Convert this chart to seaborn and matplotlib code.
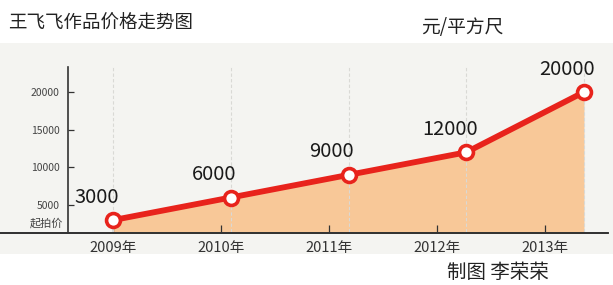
import numpy as np
import pandas as pd
import matplotlib
matplotlib.use("Agg")
import matplotlib.pyplot as plt
from matplotlib.patches import Rectangle
import seaborn as sns

years = ["2009年", "2010年", "2011年", "2012年", "2013年"]
prices = [3000, 6000, 9000, 12000, 20000]
value_labels = ["3000", "6000", "9000", "12000", "20000"]
ytick_values = [5000, 10000, 15000, 20000]
ytick_labels = ["5000", "10000", "15000", "20000"]
title = "王飞飞作品价格走势图"
unit = "元/平方尺"
credit = "制图 李荣荣"
start_label = "起拍价"

sns.set_theme(style="white")
plt.rcParams["font.family"] = ["Noto Sans CJK SC", "DejaVu Sans"]

W, H = 613, 285
fig = plt.figure(figsize=(W / 100, H / 100), dpi=100)
fig.patch.set_facecolor("white")

# gray panel behind the chart
fig.patches.append(Rectangle((0, (H - 254) / H), 1, (254 - 43) / H,
                             transform=fig.transFigure, facecolor="#f4f4f1",
                             edgecolor="none", zorder=-5))

ax = fig.add_axes([0, (H - 233) / H, 608 / W, (233 - 67) / H])
ax.set_facecolor("none")

df = pd.DataFrame({"x": np.arange(len(years)), "price": prices})

ax.fill_between(df["x"], df["price"], 0, color="#f8c898", lw=0, zorder=0.4)
ax.vlines(df["x"], 0, 30000, colors="#d9d9d5", linestyles=(0, (3, 2)), lw=0.8, zorder=0.6)
sns.lineplot(data=df, x="x", y="price", ax=ax, color="#e8231c", lw=4.2,
             marker="o", markersize=10, markerfacecolor="white",
             markeredgecolor="#e8231c", markeredgewidth=2.6, zorder=3)

for xi, yi, lab in zip(df["x"], df["price"], value_labels):
    ax.annotate(lab, (xi, yi), xytext=(-12, 9), textcoords="offset points",
                ha="center", va="bottom", fontsize=14.5, color="#1a1a1a", zorder=4)

px_per_unit = 117.75
ax.set_xlim(-113 / px_per_unit, (608 - 113) / px_per_unit)
ax.set_ylim(1290, 23320)

ax.spines["left"].set_position(("data", -45 / px_per_unit))
for s in ["top", "right"]:
    ax.spines[s].set_visible(False)
ax.spines["left"].set_color("#333333")
ax.spines["bottom"].set_color("#333333")
ax.spines["left"].set_linewidth(1.2)
ax.spines["bottom"].set_linewidth(1.3)
ax.axhline(1290, color="#333333", lw=1.3, clip_on=False, zorder=2)

ax.set_yticks(ytick_values)
ax.set_yticklabels(ytick_labels)
ax.tick_params(axis="y", direction="in", length=4, width=0.9, color="#333333",
               labelsize=7.5, labelcolor="#444444", pad=6, left=True)

label_scale = 108 / px_per_unit
ax.set_xticks(np.arange(len(years)) * label_scale)
ax.set_xticklabels(years)
ax.tick_params(axis="x", direction="in", length=6, width=0.9, color="#333333",
               labelsize=10.5, labelcolor="#333333", pad=6, bottom=True)
ax.set_xlabel("")
ax.set_ylabel("")

ax.text(-50 / px_per_unit, 2600, start_label, ha="right", va="center",
        fontsize=8, color="#444444")

fig.text(8 / W, 1 - 24 / H, title, ha="left", va="center", fontsize=13.3, color="#222222")
fig.text(503 / W, 1 - 28 / H, unit, ha="right", va="center", fontsize=13.5, color="#222222")
fig.text(447 / W, 1 - 262 / H, credit, ha="left", va="top", fontsize=14, color="#222222")

fig.savefig("out.png", dpi=100, facecolor=fig.get_facecolor())
